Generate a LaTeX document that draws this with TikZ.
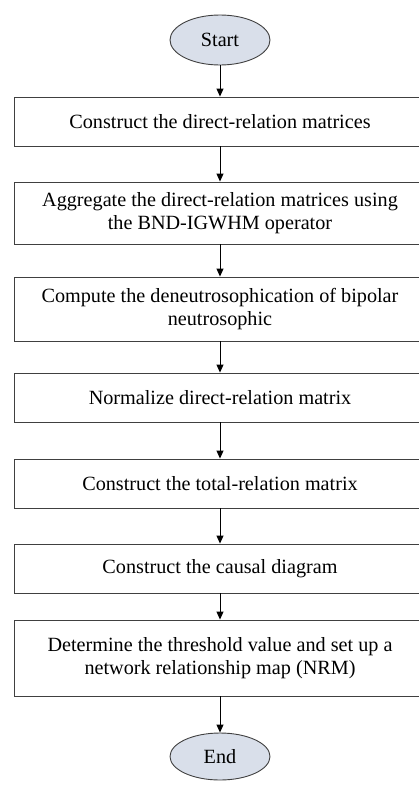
\documentclass[tikz,border=0pt]{standalone}
\usepackage{fontspec}
\setmainfont{Liberation Serif}
\usetikzlibrary{shapes.geometric,arrows.meta}
\tikzset{
  stepbox/.style={draw=black!75, line width=0.9pt, rectangle, minimum width=412pt, align=center, inner sep=0pt, font=\fontsize{20.2}{22.5}\selectfont},
  term/.style={draw=black!75, line width=0.9pt, ellipse, fill=termfill, minimum width=100pt, minimum height=50pt, inner sep=0pt, font=\fontsize{20.2}{22.5}\selectfont},
  flow/.style={draw=black, line width=0.9pt, -{Triangle[length=8pt,width=7pt]}}
}
\definecolor{termfill}{HTML}{D9DFEA}
\begin{document}
\begin{tikzpicture}[x=1pt,y=1pt]
\useasboundingbox (0,0) rectangle (419,-785);
\clip (0,0) rectangle (419,-785);
\node[term] (start) at (220,-40) {Start};
\node[stepbox, minimum height=49pt] (b1) at (220,-121.5) {Construct the direct-relation matrices};
\node[stepbox, minimum height=62pt] (b2) at (220,-213) {Aggregate the direct-relation matrices using\\the BND-IGWHM operator};
\node[stepbox, minimum height=64pt] (b3) at (220,-309) {Compute the deneutrosophication of bipolar\\neutrosophic};
\node[stepbox, minimum height=49pt] (b4) at (220,-397.5) {Normalize direct-relation matrix};
\node[stepbox, minimum height=49pt] (b5) at (220,-483.5) {Construct the total-relation matrix};
\node[stepbox, minimum height=49pt] (b6) at (220,-568.5) {Construct the causal diagram};
\node[stepbox, minimum height=76pt] (b7) at (220,-658) {Determine the threshold value and set up a\\network relationship map (NRM)};
\node[term, minimum height=47pt] (end) at (220,-756.5) {End};
\draw[flow] (start) -- (b1);
\draw[flow] (b1) -- (b2);
\draw[flow] (b2) -- (b3);
\draw[flow] (b3) -- (b4);
\draw[flow] (b4) -- (b5);
\draw[flow] (b5) -- (b6);
\draw[flow] (b6) -- (b7);
\draw[flow] (b7) -- (end);
\end{tikzpicture}
\end{document}
